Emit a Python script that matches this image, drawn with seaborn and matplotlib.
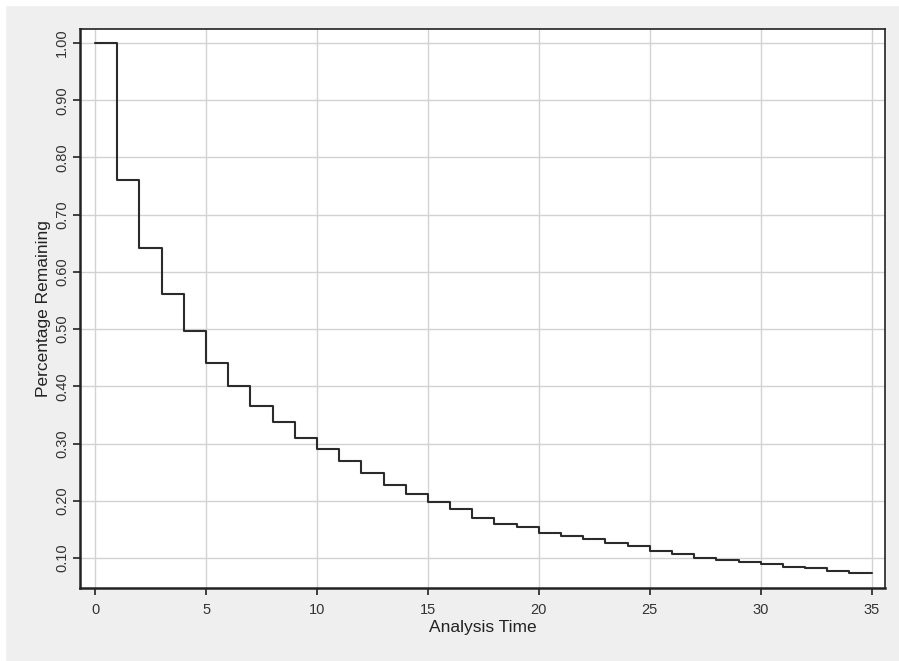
import numpy as np
import pandas as pd
import matplotlib
matplotlib.use("Agg")
import matplotlib.pyplot as plt
import seaborn as sns

# データ (読み取り値)
analysis_time = list(range(0, 36))
pct_remaining = [1.000, 0.760, 0.642, 0.562, 0.496, 0.441, 0.400, 0.365, 0.338, 0.310,
                 0.291, 0.269, 0.248, 0.227, 0.211, 0.197, 0.185, 0.170, 0.160, 0.154,
                 0.144, 0.139, 0.133, 0.127, 0.121, 0.113, 0.107, 0.100, 0.097, 0.093,
                 0.090, 0.085, 0.082, 0.078, 0.073, 0.073]
x_ticks = [0, 5, 10, 15, 20, 25, 30, 35]
y_ticks = [0.10, 0.20, 0.30, 0.40, 0.50, 0.60, 0.70, 0.80, 0.90, 1.00]

df = pd.DataFrame({'time': analysis_time, 'surv': pct_remaining})

sns.set_style("white")
plt.rcParams['font.family'] = ['Liberation Sans', 'DejaVu Sans']

bg = '#efefef'
fig = plt.figure(figsize=(8.99, 6.61), dpi=100, facecolor=bg)
# 左上の白い余白
fig.add_artist(plt.Rectangle((0, 0), 5 / 899, 1, transform=fig.transFigure, color='white', zorder=0))
fig.add_artist(plt.Rectangle((0, 1 - 5 / 661), 1, 5 / 661, transform=fig.transFigure, color='white', zorder=0))

ax = fig.add_axes([80 / 899, 73 / 661, (885 - 80) / 899, (588 - 29) / 661])
ax.set_facecolor('white')

sns.lineplot(data=df, x='time', y='surv', drawstyle='steps-post', color='#2b2b2b',
             linewidth=1.5, ax=ax, zorder=3)

ax.set_xlim(-0.68, 35.6)
ax.set_ylim(0.0475, 1.0245)
ax.set_xticks(x_ticks)
ax.set_yticks(y_ticks)
ax.set_yticklabels([f"{v:.2f}" for v in y_ticks], rotation=90, va='center')
ax.grid(True, color='#d2d2d2', linewidth=1.0)
ax.set_axisbelow(True)

ax.tick_params(axis='both', direction='out', length=5, width=1.2, color='#222222',
               labelsize=10.5, labelcolor='#333333', pad=3)
ax.tick_params(axis='x', bottom=True, pad=6)
ax.tick_params(axis='y', left=True)

for side in ['left', 'bottom']:
    ax.spines[side].set_linewidth(1.8)
    ax.spines[side].set_color('#222222')
for side in ['top', 'right']:
    ax.spines[side].set_linewidth(1.2)
    ax.spines[side].set_color('#222222')

ax.set_xlabel('Analysis Time', fontsize=12.5, color='#222222', labelpad=2)
ax.set_ylabel('Percentage Remaining', fontsize=12.5, color='#222222', labelpad=3)

plt.savefig('out.png', dpi=100, facecolor=bg)
plt.close()
